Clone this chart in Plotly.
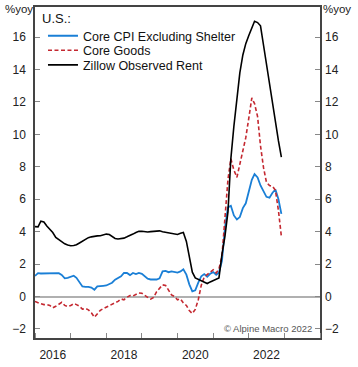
import pandas as pd
import plotly.graph_objects as go

dates = pd.date_range("2016-01-01", periods=84, freq="MS")

core_cpi_ex_shelter = [
    1.27, 1.44, 1.42, 1.42, 1.40, 1.44, 1.40, 1.42, 1.44, 1.33, 1.12, 1.15,
    1.22, 1.28, 1.15, 0.85, 0.62, 0.60, 0.60, 0.55, 0.42, 0.62, 0.66, 0.66,
    0.68, 0.75, 0.85, 1.04, 1.15, 1.25, 1.45, 1.45, 1.32, 1.45, 1.38, 1.45,
    1.40, 1.25, 1.10, 1.05, 1.05, 1.05, 1.12, 1.55, 1.58, 1.50, 1.55, 1.52,
    1.48, 1.55, 1.68, 1.35, 0.75, 0.32, 0.38, 0.85, 1.25, 1.38, 1.22, 1.40,
    1.50, 1.34, 1.48, 2.20, 4.20, 5.50, 5.60, 5.00, 4.75, 4.90, 5.45, 5.75,
    6.40, 7.20, 7.55, 7.35, 6.85, 6.45, 6.15, 6.10, 6.40, 6.60, 6.00, 5.10,
]

core_goods = [
    -0.30, -0.40, -0.45, -0.50, -0.50, -0.55, -0.70, -0.60, -0.50, -0.36, -0.55, -0.62,
    -0.56, -0.44, -0.50, -0.60, -0.78, -0.74, -0.82, -1.00, -1.28, -1.05, -0.85, -0.75,
    -0.66, -0.60, -0.52, -0.38, -0.30, -0.15, -0.20, -0.05, 0.06, 0.03, 0.12, 0.22,
    0.20, 0.05, -0.05, -0.16, -0.05, 0.30, 0.50, 0.72, 0.68, 0.35, 0.10, 0.00,
    -0.20, -0.15, -0.40, -0.55, -0.87, -1.05, -0.80, -0.20, 0.70, 1.20, 1.35, 1.55,
    1.65, 1.45, 1.70, 2.50, 4.60, 7.20, 8.50, 7.80, 7.35, 8.20, 9.10, 9.80,
    11.00, 12.25, 11.90, 11.10, 9.30, 7.95, 7.05, 6.85, 6.80, 6.55, 5.30, 3.70,
]

zillow_observed_rent = [
    4.31, 4.30, 4.65, 4.60, 4.35, 4.15, 3.95, 3.65, 3.50, 3.35, 3.25, 3.18,
    3.13, 3.15, 3.19, 3.30, 3.42, 3.55, 3.63, 3.68, 3.72, 3.74, 3.75, 3.78,
    3.85, 3.82, 3.70, 3.58, 3.55, 3.58, 3.60, 3.68, 3.75, 3.85, 3.95, 4.02,
    4.03, 4.00, 3.98, 4.00, 4.02, 4.04, 4.05, 4.00, 3.97, 3.93, 3.88, 3.84,
    3.83, 3.90, 3.95, 3.40, 2.40, 1.50, 1.15, 1.05, 0.95, 0.85, 0.80, 0.90,
    1.00, 1.08, 1.15, 2.60, 3.70, 5.20, 8.50, 10.50, 12.10, 13.80, 14.90, 15.60,
    16.10, 16.60, 16.98, 16.90, 16.70, 15.50, 14.30, 13.05, 11.80, 10.65, 9.60, 8.60,
]

y_tickvals = [-2, 0, 2, 4, 6, 8, 10, 12, 14, 16]
x_label_dates = ["2016-07-01", "2018-07-01", "2020-07-01", "2022-07-01"]
x_label_text = ["2016", "2018", "2020", "2022"]

FONT = "Liberation Sans, Arial, sans-serif"
Y_RANGE = [-2.56, 17.86]

fig = go.Figure()
fig.add_trace(go.Scatter(x=dates, y=core_cpi_ex_shelter, mode="lines",
                         name="Core CPI Excluding Shelter", legend="legend",
                         line=dict(color="#1a7fd6", width=1.8)))
fig.add_trace(go.Scatter(x=dates, y=core_goods, mode="lines",
                         name="Core Goods", legend="legend2",
                         line=dict(color="#c42830", width=1.6, dash="4px,2.5px")))
fig.add_trace(go.Scatter(x=dates, y=zillow_observed_rent, mode="lines",
                         name="Zillow Observed Rent", legend="legend3",
                         yaxis="y2",
                         line=dict(color="#000000", width=1.6)))

def leg(ypaper):
    return dict(x=0.028, y=ypaper, xanchor="left", yanchor="middle",
                bgcolor="rgba(0,0,0,0)", borderwidth=0,
                font=dict(size=12.5, color="#111", family=FONT))

fig.update_layout(
    width=358, height=367,
    margin=dict(l=35, r=38, t=5, b=21),
    paper_bgcolor="white", plot_bgcolor="white",
    font=dict(family=FONT, size=12, color="#222"),
    showlegend=True,
    legend=leg(0.912),
    legend2=leg(0.868),
    legend3=leg(0.824),
    xaxis=dict(
        type="date",
        range=["2016-01-01", "2024-01-01"],
        tickmode="array", tickvals=x_label_dates, ticktext=x_label_text,
        ticks="", showgrid=False, zeroline=False,
        showline=True, linecolor="#444", linewidth=1.5, mirror=True,
        tickfont=dict(size=12, color="#222"),
        ticklabelstandoff=5,
        minor=dict(ticks="inside", ticklen=5, tickcolor="#888",
                   dtick="M12", tick0="2016-01-01", showgrid=False),
    ),
    yaxis=dict(
        range=Y_RANGE,
        tickmode="array", tickvals=y_tickvals,
        ticks="inside", ticklen=5, tickcolor="#888",
        showgrid=False,
        zeroline=True, zerolinecolor="#b0b0b0", zerolinewidth=1.5,
        showline=True, linecolor="#444", linewidth=1.5, mirror=True,
        tickfont=dict(size=12, color="#222"),
        ticklabelstandoff=5,
    ),
    yaxis2=dict(
        range=Y_RANGE, overlaying="y", side="right",
        tickmode="array", tickvals=y_tickvals,
        ticks="inside", ticklen=5, tickcolor="#888",
        showgrid=False, zeroline=False, showline=False,
        tickfont=dict(size=12, color="#222"),
        ticklabelstandoff=4,
    ),
    annotations=[
        dict(text="U.S.:", xref="paper", yref="paper", x=0.016, y=0.965,
             xanchor="left", yanchor="middle", showarrow=False,
             font=dict(size=13, color="#111")),
        dict(text="%yoy", xref="paper", yref="paper", x=0, y=1.0,
             xanchor="right", yanchor="middle", showarrow=False,
             xshift=0, yshift=-2,
             font=dict(size=11.5, color="#222")),
        dict(text="%yoy", xref="paper", yref="paper", x=1, y=1.0,
             xanchor="left", yanchor="middle", showarrow=False,
             xshift=1, yshift=-2,
             font=dict(size=11.5, color="#222")),
        dict(text="© Alpine Macro 2022", xref="paper", yref="paper", x=0.98, y=0.03,
             xanchor="right", yanchor="middle", showarrow=False,
             font=dict(size=9.5, color="#555")),
    ],
)

fig.write_html("out.html",
               config={"displayModeBar": False},
               post_script="document.body.style.margin='0';document.body.style.overflow='hidden';")
